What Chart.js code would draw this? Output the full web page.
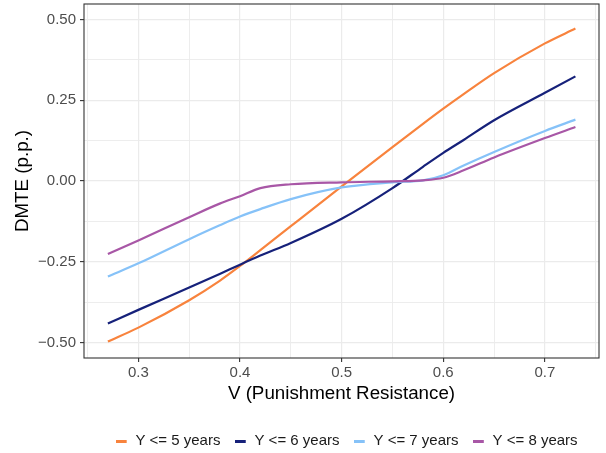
<!DOCTYPE html>
<html>
<head>
<meta charset="utf-8">
<script src="https://cdn.jsdelivr.net/npm/chart.js@4/dist/chart.umd.min.js"></script>
<style>
  html, body { margin: 0; padding: 0; background: #fff; }
  #wrap { width: 606px; height: 453px; }
</style>
</head>
<body>
<div id="wrap"><canvas id="dmteChart" width="606" height="453"></canvas></div>
<script>
// values
const vValues = [0.27, 0.30, 0.35, 0.38, 0.40, 0.42, 0.45, 0.50, 0.55, 0.58, 0.60, 0.62, 0.65, 0.70, 0.73];
const y5 = [-0.497, -0.454, -0.369, -0.309, -0.263, -0.214, -0.140, -0.017, 0.105, 0.177, 0.224, 0.269, 0.334, 0.426, 0.472];
const y6 = [-0.441, -0.399, -0.330, -0.288, -0.259, -0.231, -0.192, -0.117, -0.022, 0.044, 0.087, 0.127, 0.188, 0.273, 0.324];
const y7 = [-0.296, -0.255, -0.180, -0.137, -0.110, -0.087, -0.056, -0.020, -0.004, 0.002, 0.018, 0.048, 0.090, 0.155, 0.190];
const y8 = [-0.226, -0.184, -0.112, -0.070, -0.047, -0.022, -0.010, -0.004, -0.001, 0.002, 0.010, 0.033, 0.073, 0.133, 0.167];
const seriesLabels = ['Y <= 5 years', 'Y <= 6 years', 'Y <= 7 years', 'Y <= 8 years'];
const xMajor = [0.3, 0.4, 0.5, 0.6, 0.7];
const xMinor = [0.25, 0.35, 0.45, 0.55, 0.65, 0.75];
const yMajor = [-0.5, -0.25, 0, 0.25, 0.5];
const yMinor = [-0.375, -0.125, 0.125, 0.375];

const colors = ['#F8833D', '#16217A', '#86C2F8', '#A857A6'];
const FONT = '"Liberation Sans", Arial, Helvetica, sans-serif';

const isMajor = (list, v) => list.some(m => Math.abs(m - v) < 1e-9);

// little canvas used as legend key (short thick line)
function keyImage(color) {
  const c = document.createElement('canvas');
  c.width = 12; c.height = 3;
  const g = c.getContext('2d');
  g.fillStyle = color;
  g.fillRect(0, 0, 11, 3);
  return c;
}

const panelBorder = {
  id: 'panelBorder',
  afterLayout(chart) {
    // ggplot puts the legend a bit right of the canvas centre
    chart.legend.left += 47;
    chart.legend.right += 47;
  },
  afterDatasetsDraw(chart) {
    const {ctx, chartArea: a} = chart;
    ctx.save();
    ctx.strokeStyle = '#333333';
    ctx.lineWidth = 1.1;
    ctx.strokeRect(a.left, a.top, a.right - a.left, a.bottom - a.top);
    ctx.restore();
  }
};

function gridOpts(major) {
  return {
    color: '#EBEBEB',
    lineWidth: c => isMajor(major, c.tick.value) ? 1.2 : 0.9,
    tickColor: c => isMajor(major, c.tick.value) ? '#333333' : 'rgba(0,0,0,0)',
    tickWidth: 1.1,
    tickLength: 4,
    drawTicks: true
  };
}

const series = [y5, y6, y7, y8];
const datasets = series.map((ys, i) => ({
  label: seriesLabels[i],
  data: vValues.map((v, j) => ({x: v, y: ys[j]})),
  borderColor: colors[i],
  backgroundColor: colors[i],
  borderWidth: 2.2,
  pointRadius: 0,
  cubicInterpolationMode: 'monotone',
  order: 3 - i
}));

new Chart(document.getElementById('dmteChart').getContext('2d'), {
  type: 'line',
  data: { datasets },
  options: {
    responsive: false,
    animation: false,
    layout: { padding: { left: 0, top: 4, right: 7, bottom: -5.5 } },
    plugins: {
      tooltip: { enabled: false },
      legend: {
        position: 'bottom',
        align: 'center',
        labels: {
          usePointStyle: true,
          pointStyleWidth: 12.5,
          padding: 14,
          color: '#1A1A1A',
          font: { family: FONT, size: 15 },
          generateLabels: chart => chart.data.datasets.map((ds, i) => ({
            text: ds.label,
            pointStyle: keyImage(ds.borderColor),
            fillStyle: ds.borderColor,
            strokeStyle: ds.borderColor,
            lineWidth: 0,
            hidden: false,
            datasetIndex: i,
            fontColor: '#1A1A1A'
          }))
        }
      }
    },
    scales: {
      x: {
        type: 'linear',
        min: 0.2465,
        max: 0.7532,
        afterBuildTicks: s => { s.ticks = xMajor.concat(xMinor).sort((a, b) => a - b).map(v => ({value: v})); },
        afterFit: s => { s.height = 61.5; s.paddingLeft = 0; s.paddingRight = 0; },
        grid: gridOpts(xMajor),
        border: { display: false },
        ticks: {
          padding: 2,
          color: '#4D4D4D',
          font: { family: FONT, size: 15 },
          maxRotation: 0,
          autoSkip: false,
          callback: v => isMajor(xMajor, v) ? v.toFixed(1) : ''
        },
        title: {
          display: true,
          text: 'V (Punishment Resistance)',
          color: '#000000',
          font: { family: FONT, size: 18.75 },
          padding: { top: 0, bottom: 14.25 }
        }
      },
      y: {
        type: 'linear',
        min: -0.548,
        max: 0.548,
        afterBuildTicks: s => { s.ticks = yMajor.concat(yMinor).sort((a, b) => a - b).map(v => ({value: v})); },
        afterFit: s => { s.width = 84; s.paddingTop = 0; s.paddingBottom = 0; },
        grid: gridOpts(yMajor),
        border: { display: false },
        ticks: {
          padding: 4,
          color: '#4D4D4D',
          font: { family: FONT, size: 15 },
          autoSkip: false,
          callback: v => isMajor(yMajor, v) ? v.toFixed(2).replace('-', '\u2212') : ''
        },
        title: {
          display: true,
          text: 'DMTE (p.p.)',
          color: '#000000',
          font: { family: FONT, size: 18.75 },
          padding: { top: 12, bottom: 0 }
        }
      }
    }
  },
  plugins: [panelBorder]
});
</script>
</body>
</html>
